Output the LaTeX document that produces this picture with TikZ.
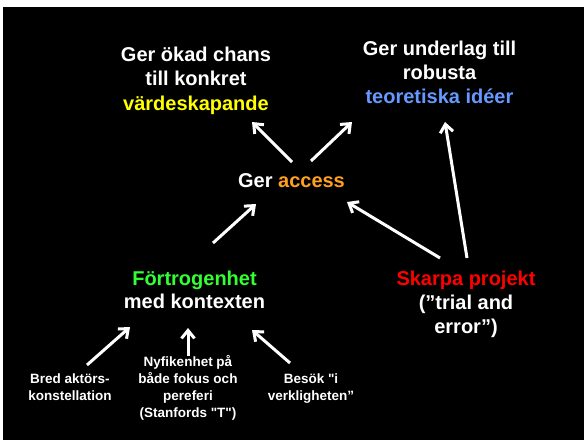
\documentclass[tikz,border=0pt]{standalone}
\usepackage{fontspec}
\setmainfont{Liberation Sans}[Ligatures=TeXOff]
\usepackage{tikz}
\usetikzlibrary{arrows.meta}
\definecolor{gul}{HTML}{FFFF00}
\definecolor{blaa}{HTML}{6699FF}
\definecolor{orange}{HTML}{FFA020}
\definecolor{groen}{HTML}{33FF33}
\definecolor{roed}{HTML}{FF0000}
\tikzset{
	big/.style={white, align=center, anchor=base, inner sep=0pt, font=\fontsize{20}{24.5}\selectfont\bfseries},
	small/.style={white, align=center, anchor=base, inner sep=0pt, font=\fontsize{13.5}{16.7}\selectfont\bfseries},
	arr/.style={white, line width=3pt, -{Straight Barb[length=8pt,width=13pt,line width=3pt]}}
}

\begin{document}
\begin{tikzpicture}[x=1pt,y=-1pt]
	\useasboundingbox (0,0) rectangle (584,440);
	\fill[white] (0,0) rectangle (584,440);
	\fill[black] (3,7) rectangle (584,440);
	
	% base = sista radens baslinje
	\node[big] (vaerde) at (196,110) {Ger ökad chans\\till konkret\\\textcolor{gul}{värdeskapande}};
	\node[big,font=\fontsize{20}{24}\selectfont\bfseries] (teori) at (439.5,103) {Ger underlag till\\robusta\\\textcolor{blaa}{teoretiska idéer}};
	\node[big] (access) at (291.5,187) {Ger \textcolor{orange}{access}};
	\node[big,font=\fontsize{20}{23}\selectfont\bfseries] (fortro) at (194.5,308) {\textcolor{groen}{Förtrogenhet}\\med kontexten};
	\node[big,font=\fontsize{20}{24}\selectfont\bfseries] (skarpa) at (466,333) {\textcolor{roed}{Skarpa projekt}\\(”trial and\\error”)};
	
	\node[small] (bred) at (70,400) {Bred aktörs-\\konstellation};
	\node[small] (nyfik) at (188,417) {Nyfikenhet på\\både fokus och\\pereferi\\(Stanfords "T")};
	\node[small] (besok) at (311,400) {Besök "i\\verkligheten”};
	
	% pilar
	\draw[arr] ([shift={(0.5,-25)}]access.base) -- ([shift={(56,12)}]vaerde.base);
	\draw[arr] ([shift={(19.5,-26)}]access.base) -- ([shift={(-87.5,19)}]teori.base);
	\draw[arr] ([shift={(1,-75)}]skarpa.base) -- ([shift={(5.5,19)}]teori.base);
	\draw[arr] ([shift={(-26,-75)}]skarpa.base) -- ([shift={(55.5,15)}]access.base);
	\draw[arr] ([shift={(18.5,-65)}]fortro.base) -- ([shift={(-35.5,17)}]access.base);
	\draw[arr] ([shift={(17,-35)}]bred.base) -- ([shift={(-64.5,19)}]fortro.base);
	\draw[arr] ([shift={(0,-61)}]nyfik.base) -- ([shift={(-6.5,20)}]fortro.base);
	\draw[arr] ([shift={(-21,-37)}]besok.base) -- ([shift={(57.5,22)}]fortro.base);
\end{tikzpicture}
\end{document}
